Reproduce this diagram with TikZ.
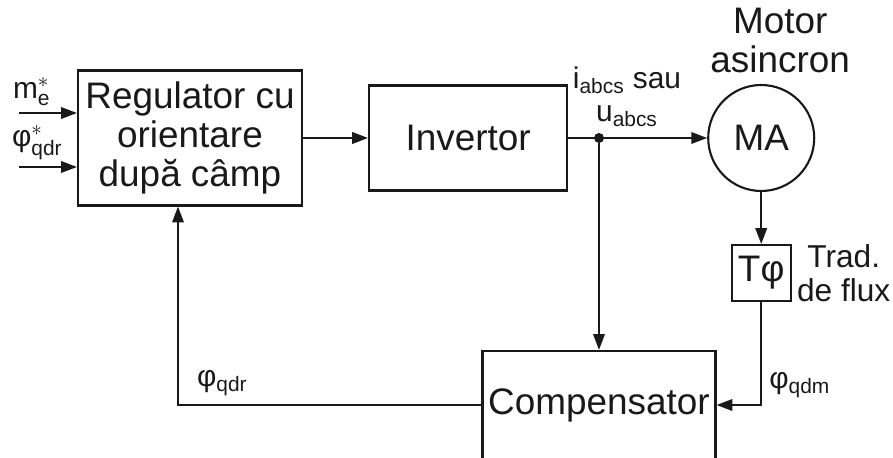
\documentclass[tikz,border=0pt]{standalone}
\usepackage{amsmath}
\usepackage{fontspec}
\setmainfont{Liberation Sans}
\usepackage{xcolor}
\usepackage{tikz}
\usetikzlibrary{arrows.meta,positioning,calc}
\tikzset{
    bloc/.style={
        rectangle,
        draw,
        line width=1.2pt,
        align=center,
        inner sep=2pt
    },
    motor/.style={circle, draw, line width=1.2pt, minimum size=2.12cm, inner sep=0pt},
    sageata/.style={-{Triangle[length=9pt,width=6.5pt]}, line width=1.2pt},
    eticheta/.style={font=\fontsize{17}{19}\selectfont, inner sep=1pt},
    punct/.style={circle, fill, inner sep=0pt, minimum size=0.2cm}
}

\begin{document}
\begin{tikzpicture}[node distance=1.3cm, font=\fontsize{21}{22}\selectfont, color=black!90]
        \useasboundingbox (0,0) rectangle (17.86,-9.16);

        \node[bloc, minimum width=4.48cm, minimum height=2.7cm] (reg) at (3.8,-2.76)
            {Regulator cu\\orientare\\după câmp};
        \node[bloc, right=1.3cm of reg, minimum width=3.96cm, minimum height=2.1cm] (inv)
            {Invertor};
        \node[motor, right=2.78cm of inv] (ma) {MA};
        \node[bloc, below=1.04cm of ma, minimum width=1.18cm, minimum height=1.12cm,
            inner sep=0pt] (tphi) {Tφ};
        \node[bloc, minimum width=4.66cm, minimum height=2.16cm] (comp) at (11.98,-8.1)
            {Compensator};

        \node[punct] (nod) at (comp.north |- inv.east) {};

        \coordinate (in1) at ([xshift=-1.16cm,yshift=0.5cm]reg.west);
        \coordinate (in2) at ([xshift=-1.16cm,yshift=-0.58cm]reg.west);

        % etichete
        \node[eticheta, anchor=south west] (lm) at ([xshift=-0.16cm,yshift=0.1cm]in1)
            {$\text{m}^{*}_{\text{e}}$};
        \node[eticheta, anchor=south west] (lphi) at ([xshift=-0.18cm,yshift=0.1cm]in2)
            {$\text{φ}^{*}_{\text{qdr}}$};
        \node[eticheta, anchor=south, align=center] (lcur) at ([xshift=0.56cm,yshift=0.18cm]nod)
            {i\textsubscript{abcs} sau\\u\textsubscript{abcs}};
        \node[anchor=south, align=center] (lmot) at ([xshift=0.38cm,yshift=0.1cm]ma.north)
            {Motor\\asincron};
        \node[right=0.1cm of tphi, align=center, font=\fontsize{18}{19}\selectfont,
            inner sep=0pt] (ltr) {Trad.\\de flux};
        \node[eticheta, anchor=west] (lqdm) at ([xshift=0.12cm]tphi.south |- 0,-7.7)
            {φ\textsubscript{qdm}};
        \node[eticheta, anchor=west] (lqdr) at (3.9,-7.66)
            {φ\textsubscript{qdr}};

        \draw[sageata] (in1) -- (in1 -| reg.west);
        \draw[sageata] (in2) -- (in2 -| reg.west);
        \draw[sageata] (reg) -- (inv);
        \draw[sageata] (inv) -- (ma);
        \draw[sageata] (ma) -- (tphi);
        \draw[sageata] (nod) -- (comp);
        \draw[sageata] (tphi.south) |- (comp.east);
        \draw[sageata] (comp.west) -| ([xshift=-0.24cm]reg.south);
    \end{tikzpicture}
\end{document}
